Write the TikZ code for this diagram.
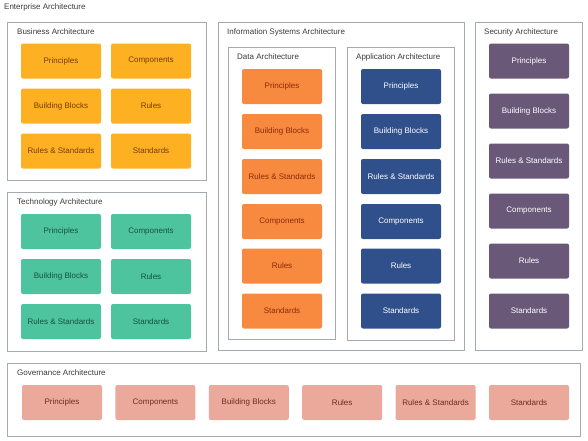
\documentclass[tikz,border=0pt]{standalone}
\usepackage{fontspec}
\setmainfont{Liberation Sans}
\definecolor{frameline}{HTML}{A3ABB1}
\definecolor{titletext}{HTML}{3A3A3A}
\definecolor{busfill}{HTML}{FDB022}
\definecolor{bustext}{HTML}{7A3A08}
\definecolor{datafill}{HTML}{F88A40}
\definecolor{datatext}{HTML}{8A2A08}
\definecolor{appfill}{HTML}{30508C}
\definecolor{secfill}{HTML}{6A5878}
\definecolor{techfill}{HTML}{4DC49E}
\definecolor{techtext}{HTML}{17523D}
\definecolor{govfill}{HTML}{EBA99B}
\definecolor{govtext}{HTML}{6E2C20}
\begin{document}
\begin{tikzpicture}[x=1pt, y=-1pt, every node/.style={font=\fontsize{8}{9.6}\selectfont},
  frame/.style={draw=frameline,line width=0.9pt},
  title/.style={anchor=west,inner sep=0pt,text=titletext},
  box/.style={rounded corners=2pt,minimum width=80pt,minimum height=35pt,align=center,inner sep=1pt}]
\useasboundingbox (0,0) rectangle (588,440);
\node[title] (ent) at (4,7) {Enterprise Architecture};
% business
\draw[frame] (7,22) rectangle (206,180);
\node[title] (bustitle) at (17,32) {Business Architecture};
\node[box,fill=busfill,text=bustext] (bus1) at (61,61) {Principles};
\node[box,fill=busfill,text=bustext] (bus2) at (151,61) {Components};
\node[box,fill=busfill,text=bustext] (bus3) at (61,106) {Building Blocks};
\node[box,fill=busfill,text=bustext] (bus4) at (151,106) {Rules};
\node[box,fill=busfill,text=bustext] (bus5) at (61,151) {Rules \& Standards};
\node[box,fill=busfill,text=bustext] (bus6) at (151,151) {Standards};
% technology
\draw[frame] (7,192) rectangle (206,351);
\node[title] (techtitle) at (17,202) {Technology Architecture};
\node[box,fill=techfill,text=techtext] (tech1) at (61,231.5) {Principles};
\node[box,fill=techfill,text=techtext] (tech2) at (151,231.5) {Components};
\node[box,fill=techfill,text=techtext] (tech3) at (61,276.5) {Building Blocks};
\node[box,fill=techfill,text=techtext] (tech4) at (151,276.5) {Rules};
\node[box,fill=techfill,text=techtext] (tech5) at (61,321.5) {Rules \& Standards};
\node[box,fill=techfill,text=techtext] (tech6) at (151,321.5) {Standards};
% information systems
\draw[frame] (218,22) rectangle (464,350);
\node[title] (istitle) at (227,32) {Information Systems Architecture};
\draw[frame] (228,47) rectangle (335,339);
\node[title] (datatitle) at (237,57) {Data Architecture};
\node[box,fill=datafill,text=datatext] (data1) at (282,86.5) {Principles};
\node[box,fill=datafill,text=datatext] (data2) at (282,131.5) {Building Blocks};
\node[box,fill=datafill,text=datatext] (data3) at (282,176.5) {Rules \& Standards};
\node[box,fill=datafill,text=datatext] (data4) at (282,221.5) {Components};
\node[box,fill=datafill,text=datatext] (data5) at (282,266) {Rules};
\node[box,fill=datafill,text=datatext] (data6) at (282,311) {Standards};
\draw[frame] (347,47) rectangle (454,340);
\node[title] (apptitle) at (356,57) {Application Architecture};
\node[box,fill=appfill,text=white] (app1) at (401,86.5) {Principles};
\node[box,fill=appfill,text=white] (app2) at (401,131.5) {Building Blocks};
\node[box,fill=appfill,text=white] (app3) at (401,176.5) {Rules \& Standards};
\node[box,fill=appfill,text=white] (app4) at (401,221.5) {Components};
\node[box,fill=appfill,text=white] (app5) at (401,266) {Rules};
\node[box,fill=appfill,text=white] (app6) at (401,311) {Standards};
% security
\draw[frame] (475,22) rectangle (582,350);
\node[title] (sectitle) at (484,32) {Security Architecture};
\node[box,fill=secfill,text=white] (sec1) at (529,61) {Principles};
\node[box,fill=secfill,text=white] (sec2) at (529,111) {Building Blocks};
\node[box,fill=secfill,text=white] (sec3) at (529,161) {Rules \& Standards};
\node[box,fill=secfill,text=white] (sec4) at (529,211) {Components};
\node[box,fill=secfill,text=white] (sec5) at (529,261) {Rules};
\node[box,fill=secfill,text=white] (sec6) at (529,311) {Standards};
% governance
\draw[frame] (7,363) rectangle (580,436);
\node[title] (govtitle) at (17,373) {Governance Architecture};
\node[box,fill=govfill,text=govtext] (gov1) at (62,402.5) {Principles};
\node[box,fill=govfill,text=govtext] (gov2) at (155.4,402.5) {Components};
\node[box,fill=govfill,text=govtext] (gov3) at (248.8,402.5) {Building Blocks};
\node[box,fill=govfill,text=govtext] (gov4) at (342.2,402.5) {Rules};
\node[box,fill=govfill,text=govtext] (gov5) at (435.6,402.5) {Rules \& Standards};
\node[box,fill=govfill,text=govtext] (gov6) at (529,402.5) {Standards};
\end{tikzpicture}
\end{document}
